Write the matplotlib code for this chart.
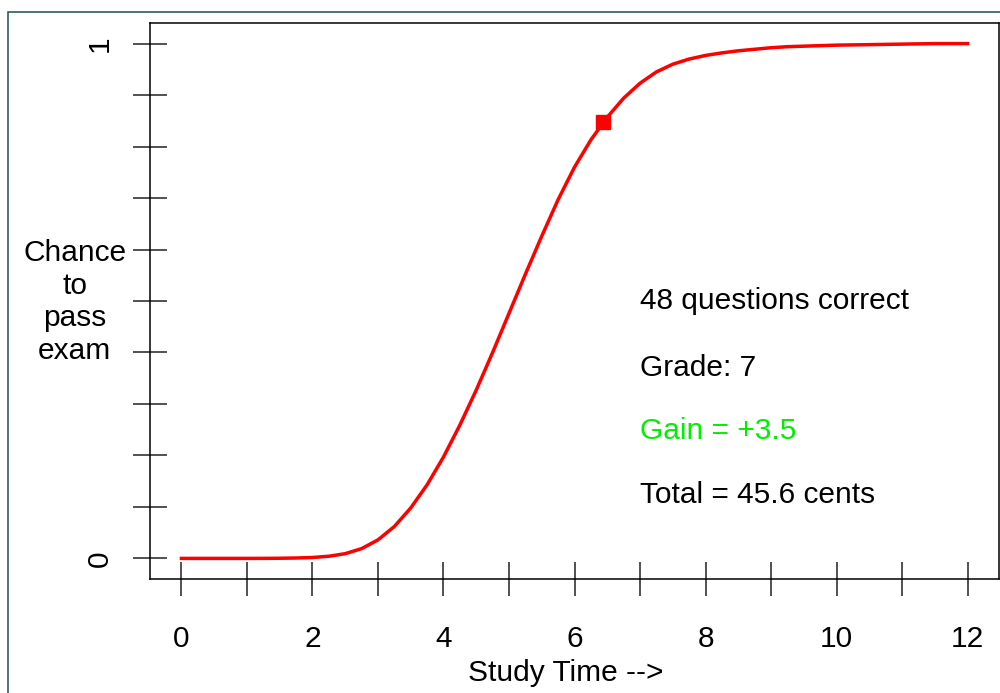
import numpy as np
import matplotlib
matplotlib.use("Agg")
import matplotlib.pyplot as plt
from matplotlib.patches import Rectangle

plt.rcParams['font.family'] = ['Liberation Sans', 'DejaVu Sans']

# curve
study_time = [0, 0.25, 0.5, 0.75, 1, 1.25, 1.5, 1.75, 2, 2.25, 2.5, 2.75, 3, 3.25, 3.5,
              3.75, 4, 4.25, 4.5, 4.75, 5, 5.25, 5.5, 5.75, 6, 6.25, 6.5, 6.75, 7,
              7.25, 7.5, 7.75, 8, 8.25, 8.5, 8.75, 9, 9.25, 9.5, 9.75, 10, 10.5, 11,
              11.5, 12]
pass_chance = [0, 0, 0, 0, 0, 0.0001, 0.0003, 0.0008, 0.0018, 0.0042, 0.0092, 0.019, 0.036,
               0.062, 0.098, 0.143, 0.197, 0.259, 0.327, 0.400, 0.476, 0.552, 0.626,
               0.697, 0.760, 0.813, 0.857, 0.894, 0.923, 0.945, 0.960, 0.970, 0.977,
               0.982, 0.986, 0.989, 0.992, 0.994, 0.995, 0.996, 0.997, 0.998, 0.999,
               1.0, 1.0]

current_x = 6.44
current_y = 0.847

info_lines = ["48 questions correct", "Grade: 7", "Gain = +3.5", "Total = 45.6 cents"]
info_colors = ["black", "black", "#00ee00", "black"]
info_y = [0.484, 0.355, 0.231, 0.108]

fs = 21.5

fig = plt.figure(figsize=(10, 6.93), dpi=100)
ax = fig.add_axes([0.15, 0.1645, 0.849, 0.8023])

ax.plot(study_time, pass_chance, color="red", lw=2.5, solid_joinstyle="round")
ax.plot([current_x], [current_y], marker="s", color="red", markersize=10.5, ls="none")

for txt, col, yy in zip(info_lines, info_colors, info_y):
    ax.text(7.0, yy, txt, color=col, fontsize=fs, va="baseline", ha="left")

ax.text(-1.63, 0.498, "Chance\nto\npass\nexam", fontsize=fs, ha="center", va="center",
        linespacing=1.22, clip_on=False)

ax.set_xlim(-0.48, 12.48)
ax.set_ylim(-0.04, 1.04)
ax.set_xticks(range(0, 13, 2))
ax.set_xticks(range(1, 13, 2), minor=True)
ax.set_yticks([0, 1])
ax.set_yticks(np.arange(1, 10) / 10, minor=True)
ax.set_yticklabels(["0", "1"], rotation=90, va="center")

for which in ["major", "minor"]:
    ax.tick_params(axis="both", which=which, direction="inout", length=24.5, width=1.1, color="#222222")
ax.tick_params(axis="x", which="major", labelsize=fs, pad=21)
ax.tick_params(axis="y", which="major", labelsize=fs, pad=14)

# x axis label
ax.text(0.4895, -0.183, "Study Time -->", fontsize=fs, ha="center", va="baseline",
        transform=ax.transAxes, clip_on=False)

for sp in ax.spines.values():
    sp.set_linewidth(1.1)

fig.patches.append(Rectangle((0.008, -0.1), 1.2, 1.1 - 12 / 693, transform=fig.transFigure,
                             fill=False, edgecolor="#355a5a", lw=1.2))

fig.savefig("out.png", dpi=100)
